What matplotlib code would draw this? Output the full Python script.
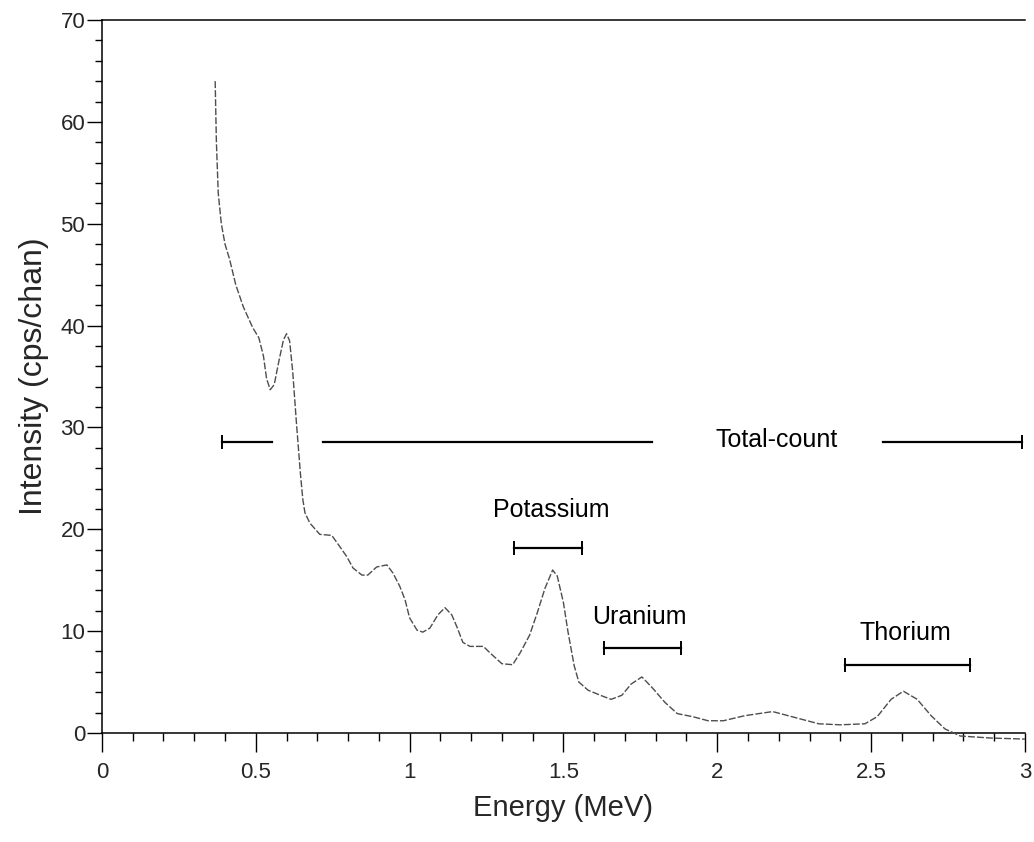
import numpy as np
import matplotlib
matplotlib.use('Agg')
import matplotlib.pyplot as plt
from matplotlib.ticker import MultipleLocator

plt.rcParams['font.family'] = ['Liberation Sans', 'DejaVu Sans']

# =============================================================================
# Spectrum
# =============================================================================

energy = [0.368, 0.372, 0.378, 0.388, 0.40, 0.415, 0.435, 0.46, 0.49, 0.51,
          0.525, 0.535, 0.547, 0.56, 0.575, 0.59, 0.60, 0.61, 0.62, 0.632,
          0.645, 0.653, 0.66, 0.676, 0.708, 0.747, 0.773, 0.796, 0.816, 0.845,
          0.864, 0.893, 0.926, 0.946, 0.968, 0.985, 1.0, 1.024, 1.043, 1.066,
          1.092, 1.115, 1.137, 1.154, 1.173, 1.196, 1.24, 1.26, 1.30, 1.335,
          1.36, 1.39, 1.415, 1.44, 1.465, 1.48, 1.50, 1.515, 1.535, 1.55,
          1.58, 1.62, 1.655, 1.69, 1.72, 1.755, 1.79, 1.83, 1.87, 1.92,
          1.97, 2.02, 2.09, 2.18, 2.23, 2.33, 2.40, 2.48, 2.52, 2.565,
          2.605, 2.65, 2.695, 2.74, 2.79, 2.89, 3.0]
intensity = [64.0, 58.0, 53.0, 50.0, 48.0, 46.5, 44.0, 41.8, 39.8, 38.8,
             37.0, 34.8, 33.7, 34.2, 36.5, 38.6, 39.2, 38.5, 35.5, 30.5,
             25.5, 22.9, 21.6, 20.6, 19.5, 19.4, 18.3, 17.3, 16.2, 15.5,
             15.5, 16.3, 16.5, 15.7, 14.4, 13.1, 11.3, 10.1, 9.9, 10.3,
             11.6, 12.3, 11.6, 10.4, 8.9, 8.5, 8.5, 7.9, 6.8, 6.7,
             7.9, 9.6, 11.8, 14.2, 16.0, 15.4, 12.8, 9.9, 6.6, 5.0,
             4.2, 3.7, 3.3, 3.7, 4.8, 5.5, 4.4, 3.0, 1.9, 1.6,
             1.2, 1.2, 1.7, 2.1, 1.7, 0.9, 0.8, 0.9, 1.6, 3.3,
             4.1, 3.3, 1.7, 0.4, -0.3, -0.5, -0.6]

# Energy windows: name, start, end, bar level, label position
window_names = ['Potassium', 'Uranium', 'Thorium']
window_lo = [1.339, 1.631, 2.415]
window_hi = [1.560, 1.882, 2.821]
window_y = [18.2, 8.3, 6.7]
label_x = [1.462, 1.748, 2.61]
label_y = [21.9, 11.4, 9.8]

# Total-count window, broken round the curve and its label
total_segments = [(0.39, 0.552), (0.718, 1.787), (2.538, 2.99)]
total_y = 28.6
total_label = 'Total-count'
total_label_xy = (2.194, 28.8)

# =============================================================================
# Figure
# =============================================================================

fig = plt.figure(figsize=[10.34, 8.42], dpi=100)
ax = fig.add_axes([0.0986, 0.1295, 0.8926, 0.8467])

ax.plot(energy, intensity, color='0.3', lw=1.0, ls=(0, (5, 1.5)),
        clip_on=False, zorder=3)

for lo, hi, y in zip(window_lo, window_hi, window_y):
    ax.plot([lo, hi], [y, y], color='k', lw=1.6)
    ax.plot([lo, hi], [y, y], ls='none', marker='|', ms=10, mew=1.4,
            color='k')

for name, x, y in zip(window_names, label_x, label_y):
    ax.text(x, y, name, ha='center', va='center', fontsize=18)

for lo, hi in total_segments:
    ax.plot([lo, hi], [total_y, total_y], color='k', lw=1.6)
ax.plot([total_segments[0][0], total_segments[-1][1]], [total_y, total_y],
        ls='none', marker='|', ms=10, mew=1.4, color='k')
ax.text(*total_label_xy, total_label, ha='center', va='center', fontsize=18)

ax.set_xlim(0, 3)
ax.set_ylim(0, 70)

ax.xaxis.set_minor_locator(MultipleLocator(0.1))
ax.yaxis.set_major_locator(MultipleLocator(10))
ax.yaxis.set_minor_locator(MultipleLocator(2))
ax.set_xticks([0, 0.5, 1, 1.5, 2, 2.5, 3])
ax.set_xticklabels(['0', '0.5', '1', '1.5', '2', '2.5', '3'])

ax.tick_params(axis='x', which='major', direction='out', length=14,
               width=1.0, pad=7, labelsize=16, labelcolor='0.15')
ax.tick_params(axis='x', which='minor', direction='out', length=6, width=1.0)
ax.tick_params(axis='y', which='major', direction='out', length=11,
               width=1.0, pad=1, labelsize=16, labelcolor='0.15')
ax.tick_params(axis='y', which='minor', direction='out', length=5, width=1.0)

ax.spines['right'].set_visible(False)
for side in ['left', 'bottom', 'top']:
    ax.spines[side].set_linewidth(1.1)

ax.set_xlabel('Energy (MeV)', fontsize=21, labelpad=8, color='0.15')
ax.set_ylabel('Intensity (cps/chan)', fontsize=23, labelpad=8, color='0.15')

fig.savefig('out.png', dpi=100)
